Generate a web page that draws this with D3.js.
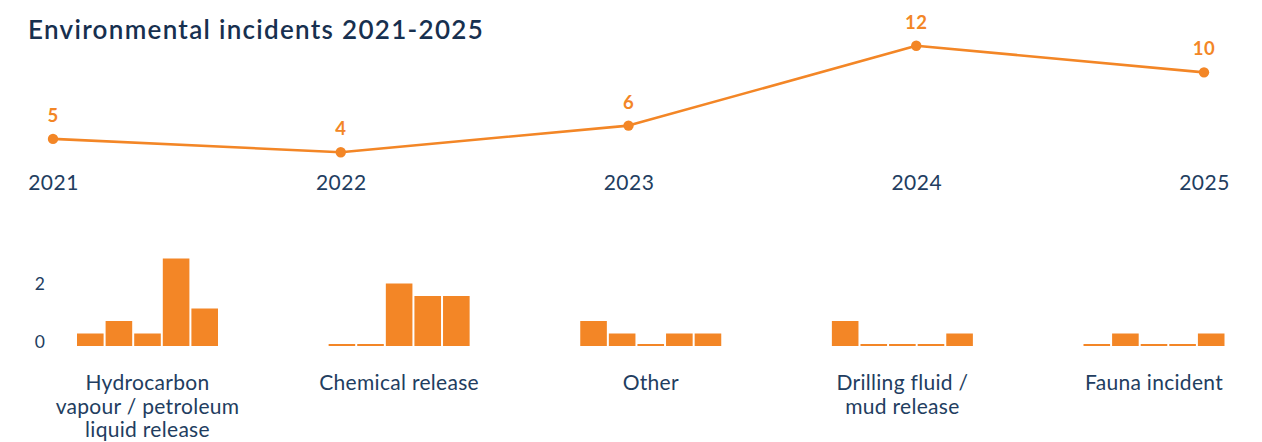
<!DOCTYPE html>
<html>
<head>
<meta charset="utf-8">
<script src="https://cdn.jsdelivr.net/npm/d3@7"></script>
<style>
  html, body { margin: 0; padding: 0; background: #ffffff; }
  svg { display: block; font-family: Lato, "Open Sans", sans-serif; }
</style>
</head>
<body>
<svg id="chart" width="1262" height="442"></svg>
<script>
// Yearly totals
const years = ["2021", "2022", "2023", "2024", "2025"];
const totals = [5, 4, 6, 12, 10];

// Incidents per category, by year
const categories = [
  "Hydrocarbon vapour / petroleum liquid release",
  "Chemical release",
  "Other",
  "Drilling fluid / mud release",
  "Fauna incident"
];
const categoryLines = [
  ["Hydrocarbon", "vapour / petroleum", "liquid release"],
  ["Chemical release"],
  ["Other"],
  ["Drilling fluid /", "mud release"],
  ["Fauna incident"]
];
const hydrocarbon = [1, 2, 1, 7, 3];
const chemical = [0, 0, 5, 4, 4];
const other = [2, 1, 0, 1, 1];
const drilling = [2, 0, 0, 0, 1];
const fauna = [0, 1, 0, 0, 1];
const categoryValues = [hydrocarbon, chemical, other, drilling, fauna];

// Small-multiple axis ticks
const barTickValues = [0, 5];
const barTickLabels = ["0", "2"];

const ORANGE = "#f38626";
const NAVY = "#17304f";
const TEXT = "#223d60";

const svg = d3.select("#chart");

// Title
svg.append("text")
  .attr("x", 28).attr("y", 39)
  .attr("fill", NAVY)
  .attr("font-size", 26)
  .attr("font-weight", 600)
  .attr("letter-spacing", 1.3)
  .text("Environmental incidents 2021-2025");

// ---- Line chart of yearly totals ----
const xLine = d3.scalePoint().domain(years).range([53, 1204]);
const yLine = d3.scaleLinear().domain([0, 12]).range([205.5, 45.7]);

const lineData = years.map((y, i) => ({ year: y, value: totals[i] }));

svg.append("path")
  .datum(lineData)
  .attr("fill", "none")
  .attr("stroke", ORANGE)
  .attr("stroke-width", 2.6)
  .attr("stroke-linejoin", "round")
  .attr("d", d3.line().x(d => xLine(d.year)).y(d => yLine(d.value)));

svg.selectAll(".dot")
  .data(lineData)
  .join("circle")
  .attr("class", "dot")
  .attr("cx", d => xLine(d.year))
  .attr("cy", d => yLine(d.value))
  .attr("r", 5.2)
  .attr("fill", ORANGE);

svg.selectAll(".val")
  .data(lineData)
  .join("text")
  .attr("class", "val")
  .attr("x", d => xLine(d.year))
  .attr("y", d => yLine(d.value) - 17)
  .attr("text-anchor", "middle")
  .attr("fill", ORANGE)
  .attr("font-size", 18.5)
  .attr("font-weight", 700)
  .attr("letter-spacing", 0.5)
  .text(d => d.value);

// Year axis under the line
const yearAxis = svg.append("g")
  .attr("transform", "translate(0,190)")
  .call(d3.axisBottom(xLine).tickSize(0).tickPadding(0));
yearAxis.select(".domain").remove();
yearAxis.selectAll("text")
  .attr("dy", 0)
  .attr("fill", TEXT)
  .attr("font-size", 21)
  .attr("letter-spacing", 0.5)
  .attr("font-family", "Lato, 'Open Sans', sans-serif");

// ---- Small multiples by category ----
const xGroup = d3.scalePoint().domain(categories).range([147.5, 1154]);
const xBar = d3.scaleBand().domain(years).range([-70.5, 70.5]).paddingInner(0.07);
const yBar = d3.scaleLinear().domain([0, 7]).range([346, 258.5]);

const groups = svg.selectAll(".group")
  .data(categories.map((c, i) => ({ name: c, lines: categoryLines[i], values: categoryValues[i] })))
  .join("g")
  .attr("class", "group")
  .attr("transform", d => `translate(${xGroup(d.name)},0)`);

groups.selectAll("rect")
  .data(d => d.values.map((v, i) => ({ year: years[i], value: v })))
  .join("rect")
  .attr("x", d => xBar(d.year))
  .attr("width", xBar.bandwidth())
  .attr("y", d => Math.min(yBar(d.value), yBar(0) - 2))
  .attr("height", d => Math.max(yBar(0) - yBar(d.value), 2))
  .attr("fill", ORANGE);

groups.each(function(d) {
  const t = d3.select(this).append("text")
    .attr("text-anchor", "middle")
    .attr("fill", TEXT)
    .attr("font-size", 21)
    .attr("letter-spacing", 0.3)
    .attr("y", 390);
  d.lines.forEach((line, i) => {
    t.append("tspan").attr("x", 0).attr("dy", i === 0 ? 0 : 23.5).text(line);
  });
});

// Value axis for the small multiples
const barAxis = svg.append("g")
  .attr("transform", "translate(45,0)")
  .call(d3.axisLeft(yBar)
    .tickValues(barTickValues)
    .tickFormat((v, i) => barTickLabels[i])
    .tickSize(0)
    .tickPadding(0));
barAxis.select(".domain").remove();
barAxis.selectAll("text")
  .attr("fill", TEXT)
  .attr("font-size", 17.5)
  .attr("dy", (v, i) => i === 0 ? "0.1em" : "0.32em")
  .attr("font-family", "Lato, 'Open Sans', sans-serif");
</script>
</body>
</html>
